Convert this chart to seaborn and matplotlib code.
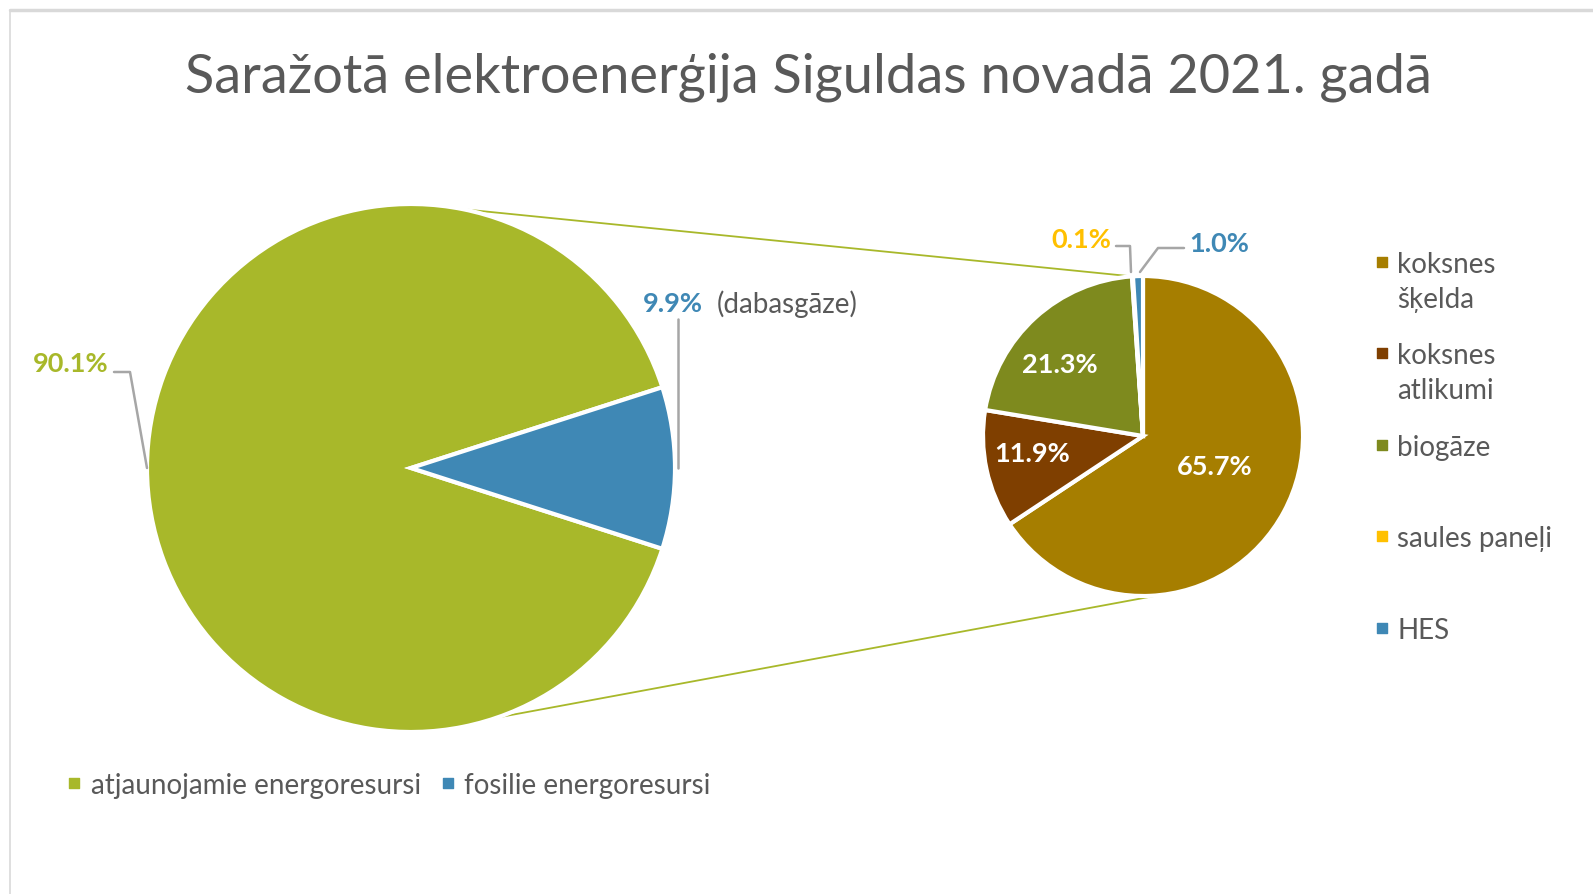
import numpy as np
import matplotlib.pyplot as plt
import seaborn as sns

# ==============================
# DATA
# ==============================
main_labels = ["atjaunojamie energoresursi", "fosilie energoresursi"]
main_values = [90.1, 9.9]
sub_labels = ["koksnes\nšķelda", "koksnes\natlikumi", "biogāze", "saules paneļi", "HES"]
sub_values = [65.7, 11.9, 21.3, 0.1, 1.0]

main_colors = ["#A8B82A", "#3F88B5"]
sub_colors = ["#A67E00", "#7F3F00", "#7E8A1E", "#FFC000", "#3F88B5"]

title = "Saražotā elektroenerģija Siguldas novadā 2021. gadā"

# ==============================
# STYLE
# ==============================
sns.set_theme(style="white")
plt.rcParams['font.family'] = ['Lato', 'Open Sans', 'DejaVu Sans']
TXT = "#595959"
LEAD = "#A6A6A6"
FS = 20      # legend / plain label size
FSB = 19.5   # bold percentage labels

W, H = 1593, 895
fig = plt.figure(figsize=(W / 100, H / 100), dpi=100)
ax = fig.add_axes([0, 0, 1, 1])


def P(x, y):
    # pixel position measured from top -> data coords
    return x, H - y


# ==============================
# PIES
# ==============================
c1, r1 = P(411, 469), 264
c2, r2 = P(1143, 437), 160

half = main_values[1] / 100 * 360 / 2
ax.pie(main_values, colors=main_colors, center=c1, radius=r1,
       startangle=half, counterclock=True,
       wedgeprops=dict(edgecolor="white", linewidth=3))
ax.pie(sub_values, colors=sub_colors, center=c2, radius=r2,
       startangle=90, counterclock=False,
       wedgeprops=dict(edgecolor="white", linewidth=3))
ax.set_xlim(0, W)
ax.set_ylim(0, H)
ax.set_aspect("equal")
ax.axis("off")


def on_circle(c, r, ang):
    a = np.deg2rad(ang)
    return c[0] + r * np.cos(a), c[1] + r * np.sin(a)


# connector lines between the pies
top_end = 90 + 360 * (1 - sum(sub_values[:3]) / 100)
for a1, a2 in [(90, top_end), (-71, -84.5)]:
    p1 = on_circle(c1, r1, a1)
    p2 = on_circle(c2, r2, a2)
    ax.plot([p1[0], p2[0]], [p1[1], p2[1]], color=main_colors[0], lw=1.3, zorder=0)

# ==============================
# LABELS
# ==============================
bold = dict(fontsize=FSB, fontweight="bold", ha="center", va="center")

ax.text(*P(71, 364), f"{main_values[0]:.1f}%", color=main_colors[0], **bold)
ax.plot(*zip(P(114, 373), P(130, 373), P(147, 469)), color=LEAD, lw=1.8)

ax.text(*P(673, 304), f"{main_values[1]:.1f}%", color=main_colors[1], **bold)
ax.text(*P(717, 304), "(dabasgāze)", color=TXT, fontsize=FS, ha="left", va="center")
ax.plot(*zip(P(678, 320), P(678, 469)), color=LEAD, lw=1.8)

ax.text(*P(1081, 240), f"{sub_values[3]:.1f}%", color=sub_colors[3], **bold)
ax.plot(*zip(P(1116, 247), P(1130, 247), P(1131, 273)), color=LEAD, lw=1.8)

ax.text(*P(1219, 244), f"{sub_values[4]:.1f}%", color=sub_colors[4], **bold)
ax.plot(*zip(P(1184, 249), P(1158, 249), P(1140, 273)), color=LEAD, lw=1.8)

inner = [(1215, 467), (1032, 454), (1060, 365)]
for (x, y), v in zip(inner, sub_values[:3]):
    ax.text(*P(x, y), f"{v:.1f}%", color="white", **bold)

# ==============================
# LEGENDS
# ==============================
leg_y = [265, 356, 448, 539, 631]
for lab, col, y in zip(sub_labels, sub_colors, leg_y):
    ax.scatter(*P(1382, y - 2), marker="s", s=60, color=col, zorder=5)
    for i, line in enumerate(lab.split("\n")):
        ax.text(*P(1397, y + i * 35), line, color=TXT, fontsize=FS,
                ha="left", va="center")

for lab, col, (xs, xt) in zip(main_labels, main_colors, [(74, 91), (448, 464)]):
    ax.scatter(*P(xs, 784), marker="s", s=60, color=col, zorder=5)
    ax.text(*P(xt, 786), lab, color=TXT, fontsize=FS, ha="left", va="center")

ax.text(*P(W / 2 + 12, 77), title, color=TXT, fontsize=39, ha="center", va="center")

# chart border
fig.add_artist(plt.Line2D([10 / W, 1], [1 - 11 / H, 1 - 11 / H], color="#D9D9D9", lw=2.5))
fig.add_artist(plt.Line2D([10 / W, 10 / W], [0, 1 - 11 / H], color="#D9D9D9", lw=1.2))

plt.savefig("out.png", dpi=100)
